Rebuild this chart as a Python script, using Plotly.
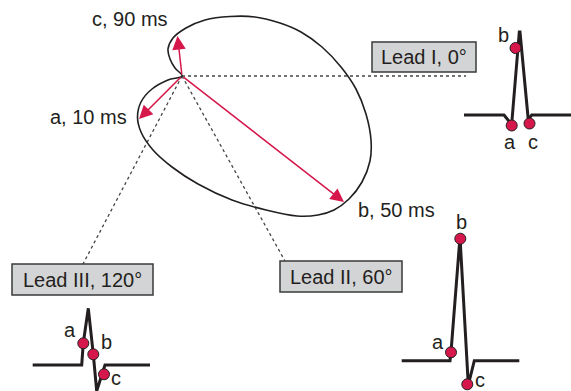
import plotly.graph_objects as go

# frontal plane vector loop (screen coords, y down)
origin = (182, 76)
loop_x = [182, 168, 152, 141, 137.5, 141, 153, 172, 198, 232, 266, 297, 318, 334, 349,
          362, 370, 371, 366, 356, 341, 322, 301, 280, 255, 230, 205, 186, 173, 168, 170, 175, 182]
loop_y = [76, 80, 89, 102, 117, 132, 150, 167, 184, 200, 210, 216, 215, 210, 199,
          182, 161, 140, 114, 89, 67, 47, 32, 23, 17, 16.5, 20, 28, 38, 49, 59, 68, 76]

# instantaneous vectors a, b, c (tips)
vec_names = ["a, 10 ms", "b, 50 ms", "c, 90 ms"]
vec_tip_x = [139, 344, 177.5]
vec_tip_y = [119, 202, 36]
vec_label_x = [88.5, 396, 129.5]
vec_label_y = [117, 210, 18.5]

# lead axes (dotted) and boxes
lead_names = ["Lead I, 0°", "Lead II, 60°", "Lead III, 120°"]
lead_end_x = [466, 285, 83]
lead_end_y = [76, 261, 264]
lead_box_x0 = [372, 280, 12]
lead_box_x1 = [476, 402, 153]
lead_box_y0 = [42, 261, 264]
lead_box_y1 = [72, 292, 295]

# ECG complexes
ecg_I_x = [464, 504, 508, 511.7, 519.3, 520, 528.3, 531.7, 571]
ecg_I_y = [115, 115, 120, 124, 32, 32, 120, 115, 115]
ecg_I_pts_x = [511.7, 515.5, 529.5]
ecg_I_pts_y = [125.5, 48, 123.5]
ecg_I_lab_x = [510, 503, 533]
ecg_I_lab_y = [142, 35, 142]

ecg_II_x = [401.7, 450, 451, 459.3, 460, 468.3, 474.3, 519.3]
ecg_II_y = [360.7, 360.7, 352, 237, 237, 385, 360.7, 360.7]
ecg_II_pts_x = [451, 460.3, 467.3]
ecg_II_pts_y = [352.3, 238.7, 384.3]
ecg_II_lab_x = [438, 461.7, 480]
ecg_II_lab_y = [341.7, 221.7, 380]

ecg_III_x = [32.7, 81.7, 83.3, 88.3, 93.3, 96.7, 105, 150]
ecg_III_y = [365, 365, 343, 308.3, 354.3, 391, 365, 365]
ecg_III_pts_x = [83.3, 93.3, 104]
ecg_III_pts_y = [343.3, 354.3, 374.3]
ecg_III_lab_x = [70, 106, 116]
ecg_III_lab_y = [330, 341.7, 378]

RED = "#D6174B"
INK = "#231F20"
FONT = "Liberation Sans, Arial, Helvetica, sans-serif"

fig = go.Figure()

# dotted lead lines
for ex, ey in zip(lead_end_x, lead_end_y):
    fig.add_trace(go.Scatter(x=[origin[0], ex], y=[origin[1], ey], mode="lines",
                             line=dict(color="#444444", width=1.3, dash="dot"),
                             hoverinfo="skip"))

# vector loop
fig.add_trace(go.Scatter(x=loop_x, y=loop_y, mode="lines",
                         line=dict(color=INK, width=1.6, shape="spline", smoothing=1.0),
                         hoverinfo="skip"))

# ECG traces
for xs, ys, px, py in [(ecg_I_x, ecg_I_y, ecg_I_pts_x, ecg_I_pts_y),
                       (ecg_II_x, ecg_II_y, ecg_II_pts_x, ecg_II_pts_y),
                       (ecg_III_x, ecg_III_y, ecg_III_pts_x, ecg_III_pts_y)]:
    fig.add_trace(go.Scatter(x=xs, y=ys, mode="lines",
                             line=dict(color=INK, width=3), hoverinfo="skip"))
    fig.add_trace(go.Scatter(x=px, y=py, mode="markers",
                             marker=dict(color=RED, size=11, line=dict(color=INK, width=1)),
                             hoverinfo="skip"))

annotations = []
# vector arrows
for tx, ty in zip(vec_tip_x, vec_tip_y):
    annotations.append(dict(x=tx, y=ty, ax=origin[0], ay=origin[1], xref="x", yref="y",
                            axref="x", ayref="y", text="", showarrow=True,
                            arrowhead=2, arrowsize=1.8, arrowwidth=1.5, arrowcolor=RED,
                            standoff=0, startstandoff=0))
for name, lx, ly in zip(vec_names, vec_label_x, vec_label_y):
    annotations.append(dict(x=lx, y=ly, text=name, showarrow=False,
                            font=dict(size=20, color=INK, family=FONT)))

# lead boxes
shapes = []
for name, x0, x1, y0, y1 in zip(lead_names, lead_box_x0, lead_box_x1, lead_box_y0, lead_box_y1):
    shapes.append(dict(type="rect", x0=x0, x1=x1, y0=y0, y1=y1, xref="x", yref="y",
                       fillcolor="#D3D4D6", line=dict(color="#3A3A3A", width=1.5), layer="above"))
    annotations.append(dict(x=(x0 + x1) / 2, y=(y0 + y1) / 2, text=name, showarrow=False,
                            font=dict(size=20, color=INK, family=FONT)))

# a/b/c labels on ECGs
for lxs, lys in [(ecg_I_lab_x, ecg_I_lab_y), (ecg_II_lab_x, ecg_II_lab_y),
                 (ecg_III_lab_x, ecg_III_lab_y)]:
    for t, lx, ly in zip(["a", "b", "c"], lxs, lys):
        annotations.append(dict(x=lx, y=ly, text=t, showarrow=False,
                                font=dict(size=20, color=INK, family=FONT)))

fig.update_layout(
    width=571, height=391,
    margin=dict(l=0, r=0, t=0, b=0),
    paper_bgcolor="white", plot_bgcolor="white",
    showlegend=False,
    xaxis=dict(range=[0, 571], visible=False, fixedrange=True),
    yaxis=dict(range=[391, 0], visible=False, fixedrange=True),
    shapes=shapes,
    annotations=annotations,
)

fig.write_html("out.html", config={"displayModeBar": False},
               post_script="document.body.style.margin='0';")
